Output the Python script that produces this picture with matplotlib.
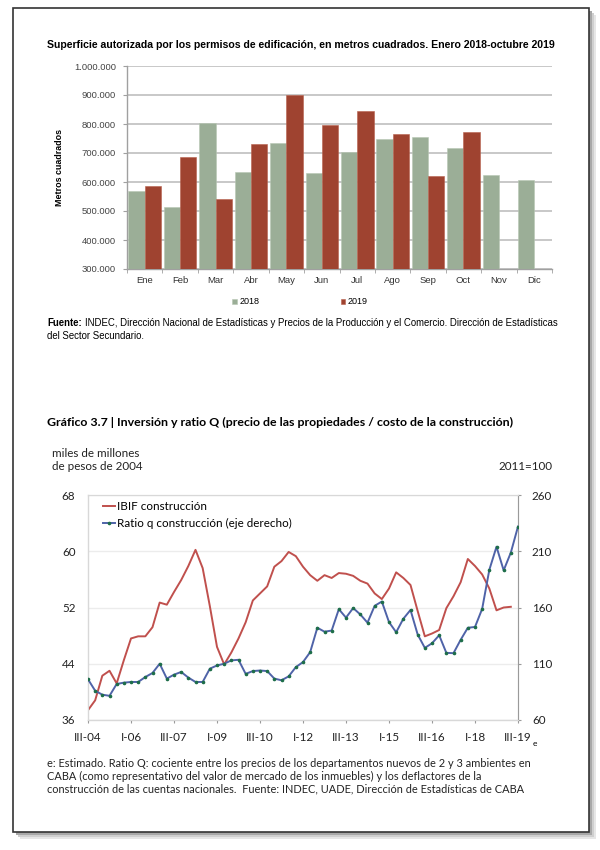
import matplotlib
matplotlib.use('Agg')
import matplotlib.pyplot as plt
from matplotlib.patches import Rectangle
from matplotlib.ticker import FuncFormatter
import numpy as np

# ---- datos grafico superior (m2 autorizados) ----
meses = ['Ene', 'Feb', 'Mar', 'Abr', 'May', 'Jun', 'Jul', 'Ago', 'Sep', 'Oct', 'Nov', 'Dic']
sup_2018 = [570000, 515000, 802000, 633000, 734000, 632000, 705000, 750000, 754000, 718000, 624000, 608000]
sup_2019 = [585000, 686000, 542000, 731000, 900000, 798000, 846000, 765000, 621000, 772000, np.nan, np.nan]

# ---- datos grafico inferior (trimestral III-04 a III-19) ----
etiquetas_x = ['III-04', 'I-06', 'III-07', 'I-09', 'III-10', 'I-12', 'III-13', 'I-15', 'III-16', 'I-18', 'III-19']
ibif = [37.4, 38.8, 42.3, 43.0, 41.2, 44.5, 47.6, 47.9, 47.9, 49.2,
        52.7, 52.4, 54.2, 55.9, 57.9, 60.2, 57.6, 52.2, 46.4, 43.9,
        45.6, 47.6, 49.9, 53.0, 54.0, 55.0, 57.8, 58.6, 59.9, 59.3,
        57.8, 56.6, 55.8, 56.6, 56.2, 56.9, 56.8, 56.5, 55.8, 55.4,
        54.0, 53.2, 54.7, 57.0, 56.2, 55.2, 51.5, 47.9, 48.3, 48.8,
        51.9, 53.6, 55.6, 58.9, 57.9, 56.7, 54.7, 51.6, 52.0, 52.1]
ratio_q = [96.2, 86.0, 82.5, 81.5, 92.0, 93.2, 93.8, 93.8, 98.2, 101.8,
           110.0, 96.8, 100.3, 102.7, 97.7, 93.8, 93.8, 105.6, 108.5, 110.0,
           113.0, 113.5, 101.0, 103.5, 104.0, 103.5, 96.8, 95.3, 98.8, 107.0,
           111.5, 120.3, 142.0, 138.5, 139.5, 158.5, 151.0, 159.5, 153.8, 146.5,
           161.5, 165.3, 147.0, 138.0, 150.0, 157.8, 136.0, 124.1, 128.2, 135.3,
           119.7, 119.4, 131.3, 142.0, 142.7, 158.8, 193.5, 214.0, 193.0, 208.8,
           232.0]

W, H = 600, 850
fig = plt.figure(figsize=(6, 8.5), dpi=100)
fig.patch.set_facecolor('white')

def fx(px):
    return px / W

def fy(py):
    return 1 - py / H

# hoja con sombra
for off, col in [(7, '#e6e6e6'), (5, '#cfcfcf'), (3, '#a8a8a8')]:
    fig.patches.append(Rectangle((fx(13 + off), fy(832 + off)), fx(576), 824 / H,
                                 transform=fig.transFigure, facecolor=col, edgecolor='none', zorder=-3))
fig.patches.append(Rectangle((fx(13), fy(832)), fx(576), 824 / H, transform=fig.transFigure,
                             facecolor='white', edgecolor='#333333', linewidth=1.2, zorder=-2))

narrow = ['Liberation Sans Narrow', 'Liberation Sans', 'DejaVu Sans']
calibri = ['Lato', 'DejaVu Sans']

# ================= grafico de barras =================
ax1 = fig.add_axes([fx(127), fy(269), fx(425), 203 / H])
x = np.arange(len(meses))
w = 0.46
ax1.bar(x - w / 2, sup_2018, w, color='#9bae97', edgecolor='#b8c6b4', linewidth=0.4, label='2018', zorder=3)
ax1.bar(x + w / 2, sup_2019, w, color='#9f4330', edgecolor='#b8604d', linewidth=0.4, label='2019', zorder=3)
ax1.set_xlim(-0.5, 11.5)
ax1.set_ylim(300000, 1000000)
ax1.set_yticks(np.arange(300000, 1000001, 100000))
ax1.yaxis.set_major_formatter(FuncFormatter(lambda v, p: f'{int(v):,}'.replace(',', '.')))
ax1.grid(axis='y', color='#c4c4c4', linewidth=1.3, zorder=0)
for s in ['top', 'right']:
    ax1.spines[s].set_visible(False)
for s in ['left', 'bottom']:
    ax1.spines[s].set_color('#a0a0a0')
    ax1.spines[s].set_linewidth(1.0)
ax1.set_xticks(x)
ax1.set_xticklabels(meses, family=narrow, fontsize=6.8, color='#333333')
ax1.set_xticks(np.arange(-0.5, 12, 1), minor=True)
ax1.tick_params(axis='x', which='major', length=0, pad=5)
ax1.tick_params(axis='x', which='minor', length=3, color='#a0a0a0')
ax1.tick_params(axis='y', length=3, color='#a0a0a0', labelsize=6.8, labelcolor='#444444', pad=5)
for t in ax1.get_yticklabels():
    t.set_family(narrow)
ax1.set_ylabel('Metros cuadrados', family=narrow, fontsize=6.4, fontweight='bold', labelpad=7)

fig.text(fx(47), fy(45), 'Superficie autorizada por los permisos de edificación, en metros cuadrados. Enero 2018-octubre 2019',
         family=narrow, fontsize=7.6, fontweight='bold', va='center', ha='left')
fig.legend(loc='center', bbox_to_anchor=(fx(300), fy(302)), ncol=2, frameon=False,
           prop={'family': narrow, 'size': 6.5}, handlelength=0.5, handleheight=0.5,
           handletextpad=0.3, columnspacing=9)

# fuente: "Fuente:" en negrita seguido del resto
fuente_b = fig.text(fx(47), fy(323), 'Fuente:', family=narrow, fontsize=6.9, fontweight='bold', va='center')
fig.canvas.draw()
bb = fuente_b.get_window_extent(fig.canvas.get_renderer())
fig.text((bb.x1 + 3) / W, fy(323),
         'INDEC, Dirección Nacional de Estadísticas y Precios de la Producción y el Comercio. Dirección de Estadísticas',
         family=narrow, fontsize=6.9, va='center')
fig.text(fx(47), fy(336), 'del Sector Secundario.', family=narrow, fontsize=6.9, va='center')

# ================= grafico de lineas =================
fig.text(fx(47), fy(422), 'Gráfico 3.7 | Inversión y ratio Q (precio de las propiedades / costo de la construcción)',
         family=calibri, fontsize=8.9, fontweight='bold', va='center')
fig.text(fx(52), fy(460), 'miles de millones\nde pesos de 2004', family=calibri, fontsize=8.4,
         va='center', ha='left', linespacing=1.3, color='#222222')
fig.text(fx(552), fy(467), '2011=100', family=calibri, fontsize=8.4, va='center', ha='right', color='#222222')

ax2 = fig.add_axes([fx(88), fy(720), fx(430), 225 / H])
axr = ax2.twinx()
t = np.arange(len(ratio_q))
l1, = ax2.plot(np.arange(len(ibif)), ibif, color='#c0504d', linewidth=1.4, zorder=3)
l2, = axr.plot(t, ratio_q, color='#4f63a8', linewidth=1.4, marker='o', markersize=1.6,
               markerfacecolor='#1e6e4a', markeredgecolor='#1e6e4a', zorder=3)
ax2.set_xlim(0, 60)
ax2.set_ylim(36, 68)
axr.set_ylim(60, 260)
ax2.set_yticks([36, 44, 52, 60, 68])
axr.set_yticks([60, 110, 160, 210, 260])
ax2.grid(axis='y', color='#ececec', linewidth=1.0, zorder=0)
ax2.set_xticks(np.arange(0, 61, 6))
ax2.set_xticklabels(etiquetas_x)
for a in (ax2, axr):
    for s in a.spines.values():
        s.set_color('#d8d8d8')
        s.set_linewidth(0.8)
ax2.spines['left'].set_color('#9a9a9a')
ax2.spines['bottom'].set_color('#9a9a9a')
axr.spines['right'].set_color('#9a9a9a')
ax2.tick_params(axis='x', length=2.5, color='#9a9a9a', labelsize=8.4, pad=6, labelcolor='#222222')
ax2.tick_params(axis='y', length=0, labelsize=8.4, pad=9, labelcolor='#222222')
axr.tick_params(axis='y', length=2, color='#9a9a9a', labelsize=8.4, pad=8, labelcolor='#222222')
for a in (ax2, axr):
    for lab in a.get_xticklabels() + a.get_yticklabels():
        lab.set_family(calibri)
ax2.text(62.1, 32.7, 'e', family=calibri, fontsize=6.0, va='center', ha='left', clip_on=False)
axr.legend([l1, l2], ['IBIF construcción', 'Ratio q construcción (eje derecho)'],
           loc='upper left', bbox_to_anchor=(0.02, 1.0), frameon=False,
           prop={'family': calibri, 'size': 8.4}, handlelength=1.0, handletextpad=0.2,
           labelspacing=0.5, borderaxespad=0.15)

nota = ('e: Estimado. Ratio Q: cociente entre los precios de los departamentos nuevos de 2 y 3 ambientes en\n'
        'CABA (como representativo del valor de mercado de los inmuebles) y los deflactores de la\n'
        'construcción de las cuentas nacionales.  Fuente: INDEC, UADE, Dirección de Estadísticas de CABA')
fig.text(fx(47), fy(776), nota, family=calibri, fontsize=7.9, va='center', ha='left',
         linespacing=1.2, color='#222222')

fig.savefig('out.png', dpi=100)
